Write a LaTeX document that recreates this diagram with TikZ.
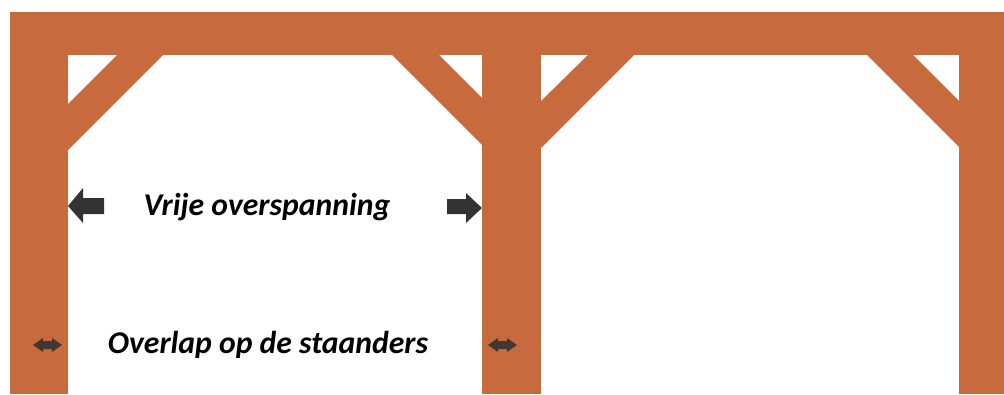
\documentclass[tikz,border=0pt]{standalone}
\usepackage{fontspec}
\newfontfamily\calib{Carlito}
\definecolor{wood}{RGB}{199,107,63}
\definecolor{pijl}{RGB}{51,51,51}

\begin{document}
\begin{tikzpicture}
  [x=1pt,y=-1pt,every node/.style={font=\calib\bfseries\itshape\fontsize{31.7}{36}\selectfont}]
  \useasboundingbox (0,0) rectangle (1004,394);

  % ligger en staanders
  \fill[wood] (10,12) rectangle (1004,55);
  \foreach \l/\r in {10/68, 482/541, 959/1004}
    \fill[wood] (\l,55) rectangle (\r,394);

  % schoren
  \fill[wood] (117,55) -- (163,55) -- (68,150) -- (68,104) -- cycle;
  \fill[wood] (392,55) -- (439,55) -- (482,98) -- (482,145) -- cycle;
  \fill[wood] (588,55) -- (634,55) -- (541,148) -- (541,101) -- cycle;
  \fill[wood] (867,55) -- (913,55) -- (959,101) -- (959,147) -- cycle;

  % pijlen
  \fill[pijl] (68,206) -- (83,188) -- (83,198) -- (104,198) -- (104,214) -- (83,214) -- (83,223) -- cycle;
  \fill[pijl] (482,208) -- (466,193) -- (466,199) -- (447,199) -- (447,214) -- (466,214) -- (466,223) -- cycle;
  \foreach \x in {33, 488}
    \fill[pijl,opacity=.9] (\x,345) -- ++(10,-7) -- ++(0,3) -- ++(9,0) -- ++(0,-3)
      -- ++(10,7) -- ++(-10,7) -- ++(0,-3) -- ++(-9,0) -- ++(0,3) -- cycle;

  \node (vrij) at (267,207) {Vrije overspanning};
  \node (overlap) at (268,345) {Overlap op de staanders};

\end{tikzpicture}
\end{document}
